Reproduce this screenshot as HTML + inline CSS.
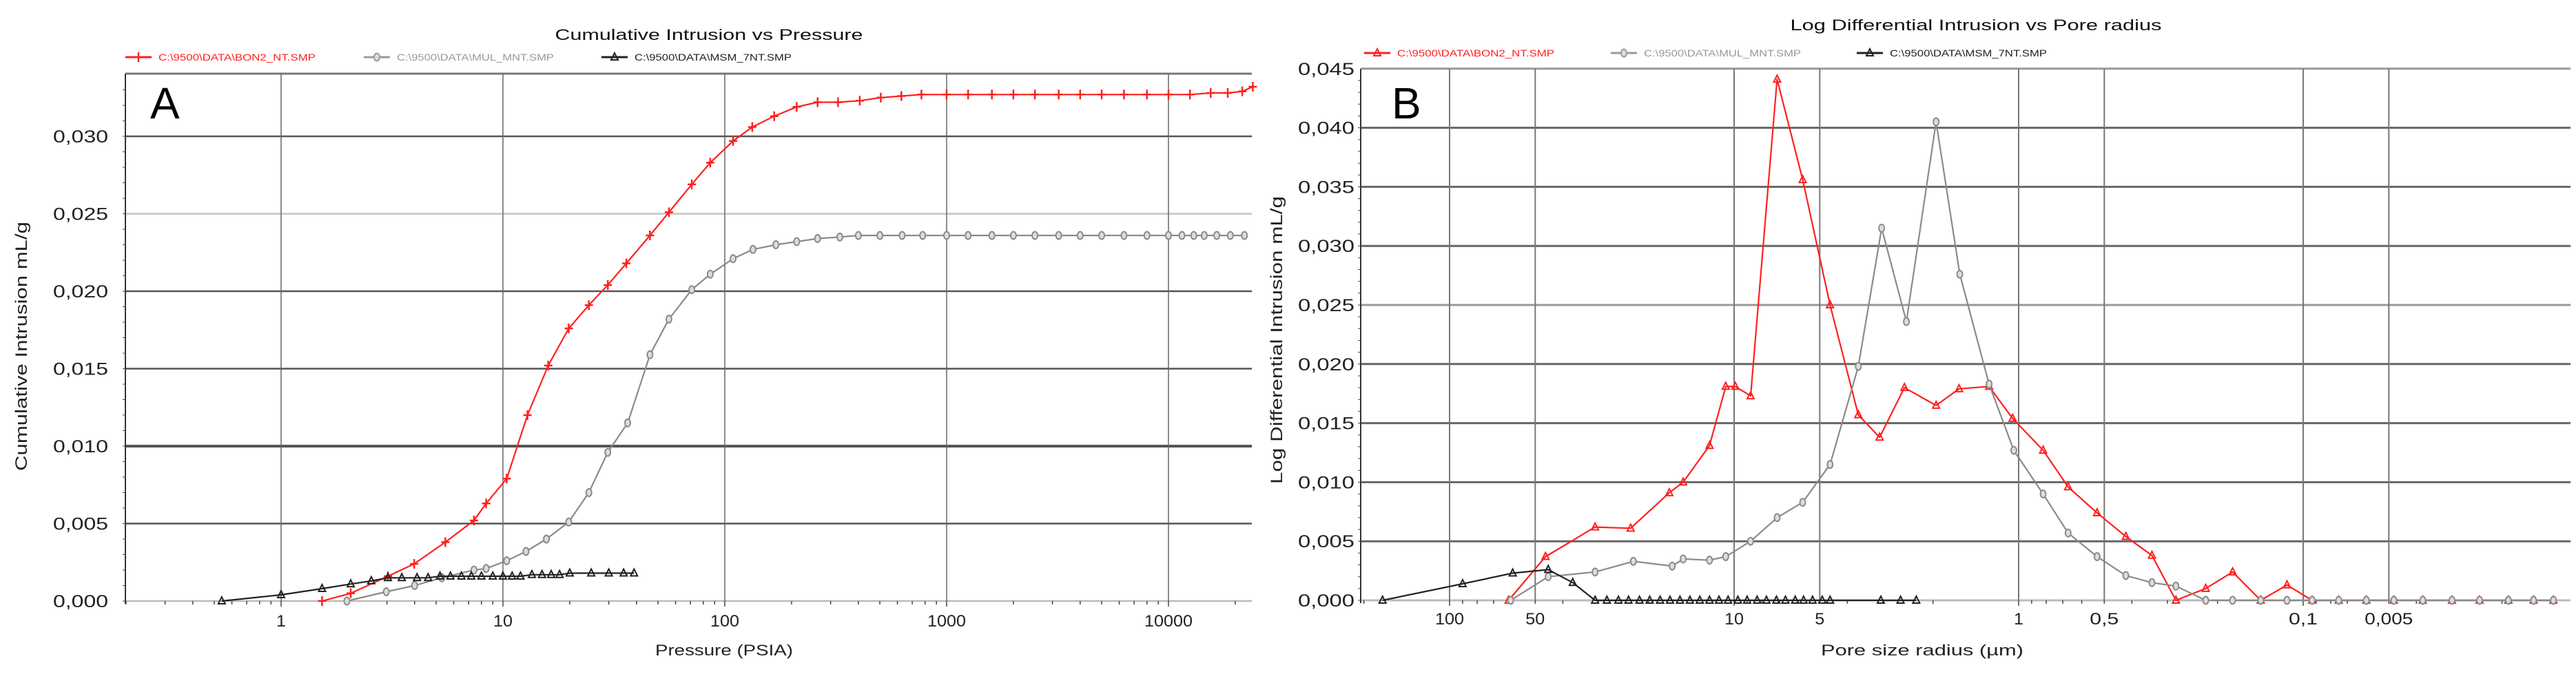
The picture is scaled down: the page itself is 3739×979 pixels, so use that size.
<!DOCTYPE html>
<html><head><meta charset="utf-8">
<style>
html,body{margin:0;padding:0;background:#fff;}
svg{display:block;}
text{font-family:"Liberation Sans",sans-serif;}
</style></head>
<body>
<svg id="fig" width="3739" height="979" viewBox="0 0 3739 979" xmlns="http://www.w3.org/2000/svg">
</svg>
<script>
// ---------- Chart A data ----------
const aRedP = [1.53,2.06,3.03,3.98,5.5,7.4,8.4,10.4,12.9,16,19.8,24.4,29.7,36,46,56,71,86,109,133,167,211,262,324,406,505,625,770,1000,1250,1600,2000,2500,3200,4000,5000,6300,8000,10000,12500,15500,18500,21500,24000];
const aRedV = [0,0.0005,0.0016,0.0024,0.0038,0.0052,0.0063,0.0079,0.012,0.0152,0.0176,0.0191,0.0204,0.0218,0.0236,0.0251,0.0269,0.0283,0.0297,0.0306,0.0313,0.0319,0.0322,0.0322,0.0323,0.0325,0.0326,0.0327,0.0327,0.0327,0.0327,0.0327,0.0327,0.0327,0.0327,0.0327,0.0327,0.0327,0.0327,0.0327,0.0328,0.0328,0.0329,0.0332];
const aGreyP = [1.98,2.98,4,5.3,7.4,8.4,10.4,12.7,15.7,19.8,24.4,29.7,36.5,46,56,71,86,109,134,170,211,262,330,400,500,630,780,1000,1250,1600,2000,2500,3200,4000,5000,6300,8000,10000,11500,13000,14500,16500,19000,22000];
const aGreyV = [0,0.0006,0.001,0.0015,0.002,0.0021,0.0026,0.0032,0.004,0.0051,0.007,0.0096,0.0115,0.0159,0.0182,0.0201,0.0211,0.0221,0.0227,0.023,0.0232,0.0234,0.0235,0.0236,0.0236,0.0236,0.0236,0.0236,0.0236,0.0236,0.0236,0.0236,0.0236,0.0236,0.0236,0.0236,0.0236,0.0236,0.0236,0.0236,0.0236,0.0236,0.0236,0.0236];
const aBlackP = [0.54,1,1.53,2.06,2.55,3.03,3.5,4.1,4.6,5.2,5.8,6.5,7.2,8,9,10,11,12,13.5,15,16.5,18,20,25,30,35,39];
const aBlackV = [0,0.0004,0.0008,0.0011,0.0013,0.0015,0.0015,0.0015,0.0015,0.0016,0.0016,0.0016,0.0016,0.0016,0.0016,0.0016,0.0016,0.0016,0.0017,0.0017,0.0017,0.0017,0.0018,0.0018,0.0018,0.0018,0.0018];
const aYTicks = [0,0.005,0.01,0.015,0.02,0.025,0.03];
const aYLabels = ["0,000","0,005","0,010","0,015","0,020","0,025","0,030"];
const aXTicks = [1,10,100,1000,10000];
const aXLabels = ["1","10","100","1000","10000"];
// ---------- Chart B data ----------
const bRedR = [62,46,30.8,23.1,16.9,15.1,12.2,10.7,9.9,8.75,7.06,5.74,4.6,3.66,3.08,2.52,1.95,1.62,1.27,1.05,0.82,0.67,0.53,0.42,0.34,0.28,0.22,0.177,0.141,0.114,0.093,0.075,0.06,0.048,0.038,0.03,0.024,0.019,0.0155,0.0132];
const bRedV = [0,0.0037,0.0062,0.0061,0.0091,0.01,0.0131,0.0181,0.0181,0.0173,0.0441,0.0356,0.025,0.0157,0.0138,0.018,0.0165,0.0179,0.0181,0.0154,0.0127,0.0096,0.0074,0.0054,0.0038,0,0.001,0.0024,0,0.0013,0,0,0,0,0,0,0,0,0,0];
const bGreyR = [61,45,30.8,22.6,16.5,15.1,12.2,10.7,8.75,7.06,5.74,4.6,3.66,3.03,2.48,1.95,1.61,1.27,1.04,0.82,0.67,0.53,0.42,0.34,0.28,0.22,0.177,0.141,0.114,0.093,0.075,0.06,0.048,0.038,0.03,0.024,0.019,0.0155,0.0132];
const bGreyV = [0,0.002,0.0024,0.0033,0.0029,0.0035,0.0034,0.0037,0.005,0.007,0.0083,0.0115,0.0198,0.0315,0.0236,0.0405,0.0276,0.0183,0.0127,0.009,0.0057,0.0037,0.0021,0.0015,0.0012,0,0,0,0,0,0,0,0,0,0,0,0,0,0];
const bBlackR = [172,90,60,45,36.9,30.8,28,25.5,23.5,21.5,19.8,18.2,16.8,15.5,14.3,13.2,12.2,11.3,10.5,9.7,9,8.3,7.7,7.1,6.6,6.1,5.7,5.3,4.9,4.6,3.05,2.6,2.29];
const bBlackV = [0,0.0014,0.0023,0.0026,0.0015,0,0,0,0,0,0,0,0,0,0,0,0,0,0,0,0,0,0,0,0,0,0,0,0,0,0,0,0];
const bYTicks = [0,0.005,0.01,0.015,0.02,0.025,0.03,0.035,0.04,0.045];
const bYLabels = ["0,000","0,005","0,010","0,015","0,020","0,025","0,030","0,035","0,040","0,045"];
const bXTicks = [100,50,10,5,1,0.5,0.1,0.05];
const bXLabels = ["100","50","10","5","1","0,5","0,1","0,005"];

const NS = "http://www.w3.org/2000/svg";
const svg = document.getElementById("fig");
function mk(tag, attrs, parent, txt){
  const e = document.createElementNS(NS, tag);
  for (const k in attrs) e.setAttribute(k, attrs[k]);
  if (txt !== undefined) e.textContent = txt;
  (parent||svg).appendChild(e);
  return e;
}
function grp(name){
  const g = mk("g", {});
  
  
  return g;
}

// axis functions
const A = {L:182, R:1817, T:107, B:873};
const ax = p => 408 + 322*Math.log10(p);
const ay = v => A.B - v/0.005*112.5;
const B = {L:1975, R:3731, T:100, B:872};
const bx = r => 2930 - 413*Math.log10(r);
const by = v => B.B - v/0.005*85.8;

function marker(g, type, x, y, color){
  let m;
  if (type==="plus"){
    m = mk("path", {d:`M${x-6} ${y}H${x+6}M${x} ${y-7}V${y+7}`, stroke:color, "stroke-width":2.5, fill:"none"}, g);
  } else if (type==="circle"){
    m = mk("ellipse", {cx:x, cy:y, rx:4, ry:5.5, fill:"#ddd", stroke:color, "stroke-width":2}, g);
  } else {
    m = mk("path", {d:`M${x} ${y-6}L${x+5} ${y+4}L${x-5} ${y+4}Z`, fill:"none", stroke:color, "stroke-width":2}, g);
  }
  
  
}
function series(name, xs, ys, fx, fy, color, type, w){
  const g = grp(name);
  let d = "";
  for (let i=0;i<xs.length;i++) d += (i?"L":"M") + fx(xs[i]).toFixed(1) + " " + fy(ys[i]).toFixed(1);
  const l = mk("path", {d, fill:"none", stroke:color, "stroke-width":w||2.2, "stroke-linejoin":"round"}, g);
  
  
  for (let i=0;i<xs.length;i++) marker(g, type, fx(xs[i]), fy(ys[i]), color);
}
function legend(x, y, color, type, label, name){
  const g = grp(name);
  mk("line", {x1:x, y1:y, x2:x+38, y2:y, stroke:color, "stroke-width":3}, g);
  marker(g, type, x+19, y, color);
  const t = mk("text", {x:x+48, y:y+5, "font-size":14, fill:color, textLength:228, lengthAdjust:"spacingAndGlyphs"}, g, label);
  
  
}
function txt(name, attrs, s){
  const t = mk("text", attrs, svg, s);
  
  
  return t;
}

// ===== Chart A =====
{
  const g = grp("chart-a-grid");
  aYTicks.forEach((v,i)=>{
    const col = (v===0.025) ? "#c4c4c4" : (v===0) ? "#bbb" : "#555";
    const w = (v===0.01) ? 4 : 2.5;
    mk("line", {x1:A.L, y1:ay(v), x2:A.R, y2:ay(v), stroke:col, "stroke-width":w}, g);
  });
  mk("line", {x1:A.L, y1:A.T, x2:A.R, y2:A.T, stroke:"#777", "stroke-width":3}, g);
  aXTicks.forEach(p=>mk("line", {x1:ax(p), y1:A.T, x2:ax(p), y2:A.B, stroke:"#666", "stroke-width":1.5}, g));
  mk("line", {x1:A.L, y1:A.T, x2:A.L, y2:A.B+4, stroke:"#333", "stroke-width":2}, g);
  // minor ticks
  for (let v=0; v<=0.034; v+=0.001) mk("line", {x1:A.L-4, y1:ay(v), x2:A.L, y2:ay(v), stroke:"#444", "stroke-width":1}, g);
  for (let d=-1; d<=4; d++) for (let k=1;k<10;k++){ const p=k*Math.pow(10,d); const x=ax(p); if(x>A.L&&x<A.R) mk("line",{x1:x,y1:A.B,x2:x,y2:A.B+(k===1?8:5),stroke:"#444","stroke-width":1.5},g); }
  const yl = grp("chart-a-y-tick-labels");
  aYTicks.forEach((v,i)=>{ const t=mk("text",{x:157,y:ay(v)+9,"font-size":25,"text-anchor":"end",fill:"#222",textLength:80,lengthAdjust:"spacingAndGlyphs"},yl,aYLabels[i]); });
  const xl = grp("chart-a-x-tick-labels");
  aXTicks.forEach((p,i)=>mk("text",{x:ax(p),y:910,"font-size":24,"text-anchor":"middle",fill:"#222",textLength:aXLabels[i].length*14,lengthAdjust:"spacingAndGlyphs"},xl,aXLabels[i]));
  series("series-bon2-cumulative", aRedP, aRedV, ax, ay, "#ff2020", "plus");
  series("series-mul-cumulative", aGreyP, aGreyV, ax, ay, "#8a8a8a", "circle");
  series("series-msm-cumulative", aBlackP, aBlackV, ax, ay, "#222", "tri");
  txt("chart-a-title", {x:1029,y:58,"font-size":22,"text-anchor":"middle",fill:"#111",textLength:447,lengthAdjust:"spacingAndGlyphs"}, "Cumulative Intrusion vs Pressure");
  txt("panel-label-a", {x:218,y:172,"font-size":64,fill:"#000"}, "A");
  txt("chart-a-x-axis-title", {x:1051,y:952,"font-size":22,"text-anchor":"middle",fill:"#222",textLength:200,lengthAdjust:"spacingAndGlyphs"}, "Pressure (PSIA)");
  txt("chart-a-y-axis-title", {x:0,y:0,"font-size":24,"text-anchor":"middle",fill:"#222",transform:"translate(39,503) rotate(-90)",textLength:362,lengthAdjust:"spacingAndGlyphs"}, "Cumulative Intrusion mL/g");
  legend(182, 83, "#ff2020", "plus", "C:\\9500\\DATA\\BON2_NT.SMP", "legend-bon2");
  legend(528, 83, "#999", "circle", "C:\\9500\\DATA\\MUL_MNT.SMP", "legend-mul");
  legend(873, 83, "#222", "tri", "C:\\9500\\DATA\\MSM_7NT.SMP", "legend-msm");
}
// ===== Chart B =====
{
  const g = grp("chart-b-grid");
  bYTicks.forEach(v=>mk("line",{x1:B.L,y1:by(v),x2:B.R,y2:by(v),stroke:(v===0.025||v===0.045)?"#999":(v===0?"#bbb":"#666"),"stroke-width":3},g));
  bXTicks.forEach(r=>mk("line",{x1:bx(r),y1:B.T,x2:bx(r),y2:B.B,stroke:"#777","stroke-width":2},g));
  mk("line",{x1:B.L,y1:B.T,x2:B.L,y2:B.B+4,stroke:"#333","stroke-width":2},g);
  for (let v=0; v<=0.045; v+=0.001) mk("line",{x1:B.L-4,y1:by(v),x2:B.L,y2:by(v),stroke:"#444","stroke-width":1},g);
  for (let d=-2; d<=2; d++) for (let k=1;k<10;k++){ const r=k*Math.pow(10,d); const x=bx(r); if(x>B.L&&x<B.R) mk("line",{x1:x,y1:B.B,x2:x,y2:B.B+(k===1?8:5),stroke:"#444","stroke-width":1.5},g); }
  const yl = grp("chart-b-y-tick-labels");
  bYTicks.forEach((v,i)=>mk("text",{x:1966,y:by(v)+9,"font-size":25,"text-anchor":"end",fill:"#222",textLength:82,lengthAdjust:"spacingAndGlyphs"},yl,bYLabels[i]));
  const xl = grp("chart-b-x-tick-labels");
  bXTicks.forEach((r,i)=>mk("text",{x:bx(r),y:907,"font-size":24,"text-anchor":"middle",fill:"#222",textLength:bXLabels[i].length*14,lengthAdjust:"spacingAndGlyphs"},xl,bXLabels[i]));
  series("series-bon2-logdiff", bRedR, bRedV, bx, by, "#ff2020", "tri");
  series("series-mul-logdiff", bGreyR, bGreyV, bx, by, "#8a8a8a", "circle");
  series("series-msm-logdiff", bBlackR, bBlackV, bx, by, "#222", "tri");
  txt("chart-b-title", {x:2868,y:44,"font-size":22,"text-anchor":"middle",fill:"#111",textLength:539,lengthAdjust:"spacingAndGlyphs"}, "Log Differential Intrusion vs Pore radius");
  txt("panel-label-b", {x:2020,y:172,"font-size":64,fill:"#000"}, "B");
  txt("chart-b-x-axis-title", {x:2790,y:952,"font-size":22,"text-anchor":"middle",fill:"#222",textLength:294,lengthAdjust:"spacingAndGlyphs"}, "Pore size radius (µm)");
  txt("chart-b-y-axis-title", {x:0,y:0,"font-size":24,"text-anchor":"middle",fill:"#222",transform:"translate(1861,494) rotate(-90)",textLength:418,lengthAdjust:"spacingAndGlyphs"}, "Log Differential Intrusion mL/g");
  legend(1980, 77, "#ff2020", "tri", "C:\\9500\\DATA\\BON2_NT.SMP", "legend-b-bon2");
  legend(2338, 77, "#999", "circle", "C:\\9500\\DATA\\MUL_MNT.SMP", "legend-b-mul");
  legend(2695, 77, "#222", "tri", "C:\\9500\\DATA\\MSM_7NT.SMP", "legend-b-msm");
}
</script>
</body></html>
